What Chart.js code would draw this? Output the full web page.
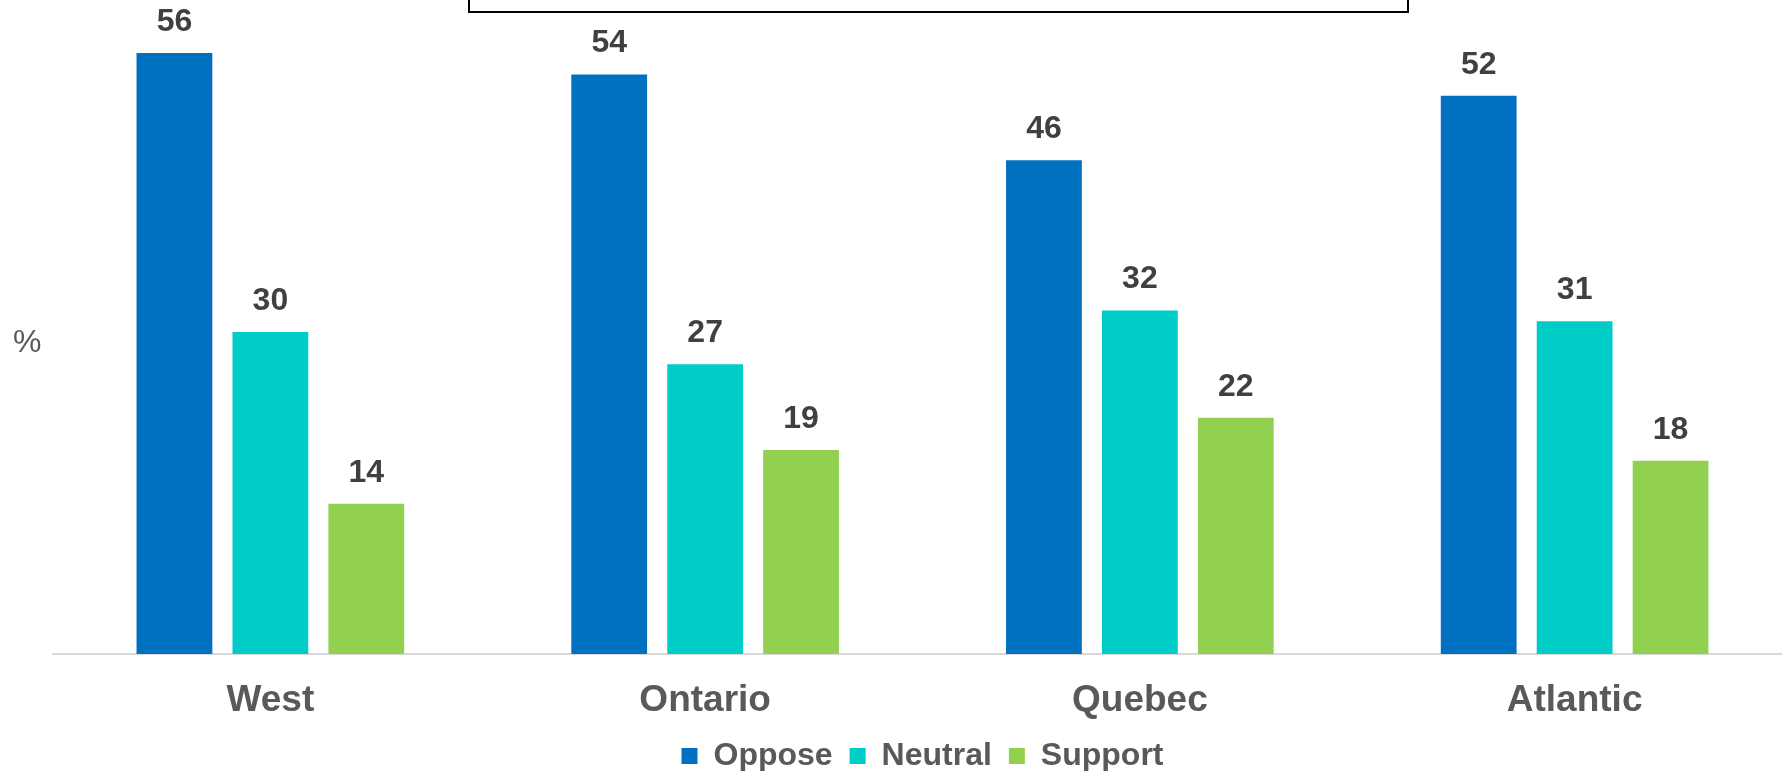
<!doctype html>
<html lang="en">

<head>
    <meta charset="UTF-8" />
    <title>Regions</title>
    <script src="https://cdn.jsdelivr.net/npm/chart.js"></script>
    <style>
        html, body { margin: 0; padding: 0; background: #fff; overflow: hidden; }
        .wrap { position: relative; width: 1792px; height: 771px; }
        .title-box {
            position: absolute; left: 468px; top: -20px; width: 937px; height: 29px;
            border: 2px solid #000; background: #fff;
        }
    </style>
</head>

<body>
    <div class="wrap">
        <canvas id="myChart" width="1792" height="771"></canvas>
        <div class="title-box"></div>
    </div>

    <script>
        const regions = ['West', 'Ontario', 'Quebec', 'Atlantic'];
        const oppose = [56, 54, 46, 52];
        const neutral = [30, 27, 32, 31];
        const support = [14, 19, 22, 18];

        const FONT = "Arial, 'Liberation Sans', sans-serif";

        /* numbers over the bars + the % on the left */
        const extras = {
            id: 'extras',
            afterDatasetsDraw(chart) {
                const c = chart.ctx;
                c.save();
                c.fillStyle = '#404040';
                c.font = 'bold 32px ' + FONT;
                c.textAlign = 'center';
                c.textBaseline = 'middle';
                chart.data.datasets.forEach((ds, i) => {
                    chart.getDatasetMeta(i).data.forEach((bar, j) => {
                        c.fillText(ds.data[j], bar.x, bar.y - 31);
                    });
                });
                c.fillStyle = '#595959';
                c.font = '32px ' + FONT;
                c.textAlign = 'left';
                const area = chart.chartArea;
                c.fillText('%', 13, (area.top + area.bottom) / 2 + 11);
                c.restore();
            }
        };

        new Chart(document.getElementById('myChart'), {
            type: 'bar',
            data: {
                labels: regions,
                datasets: [
                    { label: 'Oppose', data: oppose, backgroundColor: '#0070C0' },
                    { label: 'Neutral', data: neutral, backgroundColor: '#00CCC8' },
                    { label: 'Support', data: support, backgroundColor: '#92D050' }
                ]
            },
            options: {
                responsive: false,
                animation: false,
                layout: { padding: { left: 53, top: 10, right: 0, bottom: -11 } },
                datasets: {
                    bar: { categoryPercentage: 0.662, barPercentage: 0.79 }
                },
                scales: {
                    x: {
                        grid: { display: false, drawTicks: false },
                        border: { display: true, color: '#D9D9D9', width: 2 },
                        ticks: {
                            color: '#595959',
                            font: { family: FONT, size: 37, weight: 'bold', lineHeight: 1.0 },
                            padding: 28
                        },
                        afterFit: function (scale) {
                            scale.height = 69;
                        }
                    },
                    y: {
                        display: false,
                        min: 0,
                        max: 60
                    }
                },
                plugins: {
                    tooltip: { enabled: false },
                    legend: {
                        position: 'bottom',
                        fullSize: false,
                        labels: {
                            boxWidth: 16,
                            boxHeight: 16,
                            color: '#595959',
                            font: { family: FONT, size: 32, weight: 'bold' },
                            padding: 17
                        }
                    }
                }
            },
            plugins: [extras]
        });
    </script>
</body>

</html>
